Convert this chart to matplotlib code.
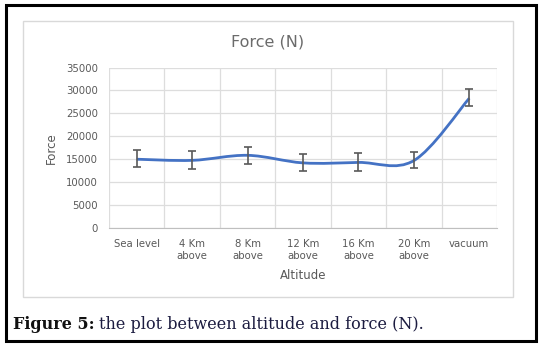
"""
Force vs altitude chart (Excel style, smoothed line with error bars).
"""

import numpy as np
import matplotlib.pyplot as plt
from matplotlib.path import Path
from matplotlib.patches import PathPatch, Rectangle

# data
altitudes = ["Sea level", "4 Km\nabove", "8 Km\nabove", "12 Km\nabove",
             "16 Km\nabove", "20 Km\nabove", "vacuum"]
force = [15000, 14750, 15850, 14200, 14300, 14700, 28300]
err_low = [1800, 1850, 1800, 1850, 1900, 1700, 1700]
err_high = [2000, 1950, 1900, 1950, 2000, 1950, 2000]
y_ticks = [0, 5000, 10000, 15000, 20000, 25000, 30000, 35000]

grey_text = '#595959'
line_blue = '#4472C4'
W, H = 543, 347


def smooth_path(x, y):
    # Bezier segments like Excel's smoothed line
    pts = np.column_stack([x, y]).astype(float)
    n = len(pts)
    verts = [pts[0]]
    codes = [Path.MOVETO]
    for i in range(n - 1):
        p0 = pts[i - 1] if i > 0 else pts[i]
        p1 = pts[i]
        p2 = pts[i + 1]
        p3 = pts[i + 2] if i + 2 < n else pts[i + 1]
        c1 = p1 + (p2 - p0) / 6.0
        c2 = p2 - (p3 - p1) / 6.0
        verts += [c1, c2, p2]
        codes += [Path.CURVE4] * 3
    return Path(verts, codes)


fig = plt.figure(figsize=(W / 100, H / 100), dpi=100)
fig.patch.set_facecolor('white')

# outer black frame and light chart frame
fig.patches.append(Rectangle((6 / W, 1 - 341 / H), 530 / W, 336 / H,
                             transform=fig.transFigure, fill=False,
                             edgecolor='black', linewidth=2.2))
fig.patches.append(Rectangle((23 / W, 1 - 297 / H), 490 / W, 276 / H,
                             transform=fig.transFigure, fill=False,
                             edgecolor='#D9D9D9', linewidth=1.0))

ax = fig.add_axes([109 / W, 1 - 228 / H, 388 / W, 160.5 / H])
x = np.arange(len(altitudes))

ax.add_patch(PathPatch(smooth_path(x, force), fill=False,
                       edgecolor=line_blue, linewidth=2.0, zorder=3))
ax.errorbar(x, force, yerr=[err_low, err_high], fmt='none',
            ecolor='#595959', elinewidth=1.2, capsize=3, capthick=1.2, zorder=4)

ax.set_xlim(-0.5, len(altitudes) - 0.5)
ax.set_ylim(0, 35000)
ax.set_yticks(y_ticks)
ax.set_yticklabels([str(v) for v in y_ticks])
ax.set_xticks(x)
ax.set_xticklabels(altitudes, linespacing=1.25)
ax.set_xticks(np.arange(-0.5, len(altitudes)), minor=True)

ax.grid(axis='y', which='major', color='#DDDDDD', linewidth=0.9)
ax.grid(axis='x', which='minor', color='#DDDDDD', linewidth=0.9)
ax.set_axisbelow(True)
for side in ['top', 'right', 'left']:
    ax.spines[side].set_visible(False)
ax.spines['bottom'].set_color('#BFBFBF')
ax.tick_params(axis='both', which='both', length=0, labelsize=7.3,
               labelcolor=grey_text, pad=8)

ax.set_xlabel('Altitude', fontsize=8.5, color=grey_text, labelpad=6)
ax.set_ylabel('Force', fontsize=8.5, color=grey_text, labelpad=6)
fig.text(268 / W, 1 - 42 / H, 'Force (N)', fontsize=11.5, color='#6b6b6b',
         ha='center', va='center')

# caption below the chart, sized to the reference width
cap_y = 1 - 329 / H
cap_size = 10
for _ in range(2):
    for t in list(fig.texts[1:]):
        t.remove()
    cap1 = fig.text(13 / W, cap_y, 'Figure 5:', fontsize=cap_size,
                    fontweight='bold', family='DejaVu Serif', color='#111111',
                    va='baseline')
    fig.canvas.draw()
    bb = cap1.get_window_extent()
    cap2 = fig.text(bb.x1 / W + 4 / W, cap_y,
                    'the plot between altitude and force (N).', fontsize=cap_size,
                    family='DejaVu Serif', color='#1c1c40', va='baseline')
    fig.canvas.draw()
    right = cap2.get_window_extent().x1
    cap_size = cap_size * (423 - 13) / (right - 13)

plt.savefig('out.png', dpi=100)
